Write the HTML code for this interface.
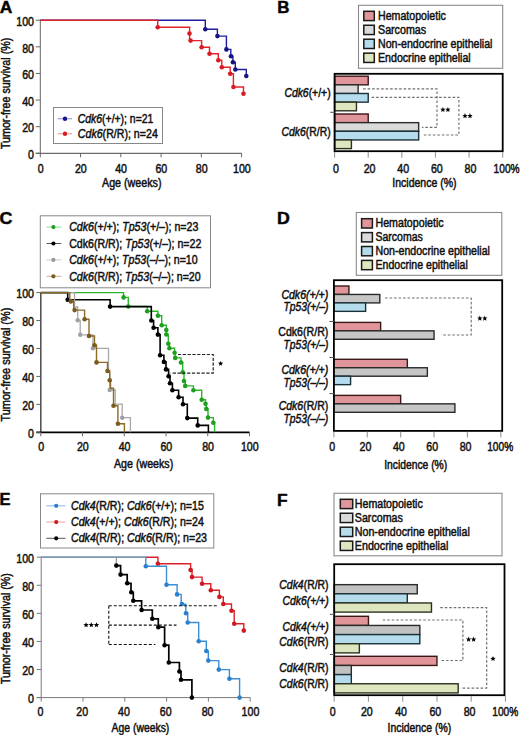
<!DOCTYPE html>
<html><head><meta charset="utf-8"><title>Figure</title>
<style>
html,body{margin:0;padding:0;background:#fff;}
body{width:520px;height:735px;overflow:hidden;}
svg{display:block;font-family:"Liberation Sans",sans-serif;}
text{stroke:#111;stroke-width:0.48px;}
</style></head>
<body>
<svg width="520" height="735" viewBox="0 0 520 735" fill="#111">
<rect x="0" y="0" width="520" height="735" fill="#fff"/>
<text x="-0.30" y="12.50" font-size="16.00" font-weight="bold" fill="#000" textLength="12.60" lengthAdjust="spacingAndGlyphs" ><tspan>A</tspan></text>
<text x="277.20" y="12.50" font-size="16.00" font-weight="bold" fill="#000" textLength="12.20" lengthAdjust="spacingAndGlyphs" ><tspan>B</tspan></text>
<text x="-0.60" y="224.30" font-size="16.00" font-weight="bold" fill="#000" textLength="12.90" lengthAdjust="spacingAndGlyphs" ><tspan>C</tspan></text>
<text x="277.00" y="224.30" font-size="16.00" font-weight="bold" fill="#000" textLength="12.80" lengthAdjust="spacingAndGlyphs" ><tspan>D</tspan></text>
<text x="-0.60" y="505.00" font-size="16.00" font-weight="bold" fill="#000" textLength="11.00" lengthAdjust="spacingAndGlyphs" ><tspan>E</tspan></text>
<text x="276.90" y="505.50" font-size="16.00" font-weight="bold" fill="#000" textLength="10.60" lengthAdjust="spacingAndGlyphs" ><tspan>F</tspan></text>
<line x1="40.30" y1="19.70" x2="40.30" y2="153.30" stroke="#666" stroke-width="1.00" />
<line x1="35.80" y1="153.30" x2="241.60" y2="153.30" stroke="#484848" stroke-width="1.00" />
<line x1="35.80" y1="153.30" x2="40.30" y2="153.30" stroke="#666" stroke-width="1.00" />
<text x="34.00" y="159.00" font-size="12.40" text-anchor="end" textLength="5.93" lengthAdjust="spacingAndGlyphs" ><tspan>0</tspan></text>
<line x1="35.80" y1="126.68" x2="40.30" y2="126.68" stroke="#666" stroke-width="1.00" />
<text x="34.00" y="132.38" font-size="12.40" text-anchor="end" textLength="11.86" lengthAdjust="spacingAndGlyphs" ><tspan>20</tspan></text>
<line x1="35.80" y1="100.06" x2="40.30" y2="100.06" stroke="#666" stroke-width="1.00" />
<text x="34.00" y="105.76" font-size="12.40" text-anchor="end" textLength="11.86" lengthAdjust="spacingAndGlyphs" ><tspan>40</tspan></text>
<line x1="35.80" y1="73.44" x2="40.30" y2="73.44" stroke="#666" stroke-width="1.00" />
<text x="34.00" y="79.14" font-size="12.40" text-anchor="end" textLength="11.86" lengthAdjust="spacingAndGlyphs" ><tspan>60</tspan></text>
<line x1="35.80" y1="46.82" x2="40.30" y2="46.82" stroke="#666" stroke-width="1.00" />
<text x="34.00" y="52.52" font-size="12.40" text-anchor="end" textLength="11.86" lengthAdjust="spacingAndGlyphs" ><tspan>80</tspan></text>
<line x1="35.80" y1="20.20" x2="40.30" y2="20.20" stroke="#666" stroke-width="1.00" />
<text x="34.00" y="25.90" font-size="12.40" text-anchor="end" textLength="17.79" lengthAdjust="spacingAndGlyphs" ><tspan>100</tspan></text>
<line x1="40.30" y1="153.30" x2="40.30" y2="157.30" stroke="#666" stroke-width="1.00" />
<text x="40.60" y="172.60" font-size="12.40" text-anchor="middle" textLength="5.93" lengthAdjust="spacingAndGlyphs" ><tspan>0</tspan></text>
<line x1="80.56" y1="153.30" x2="80.56" y2="157.30" stroke="#666" stroke-width="1.00" />
<text x="80.86" y="172.60" font-size="12.40" text-anchor="middle" textLength="11.86" lengthAdjust="spacingAndGlyphs" ><tspan>20</tspan></text>
<line x1="120.82" y1="153.30" x2="120.82" y2="157.30" stroke="#666" stroke-width="1.00" />
<text x="121.12" y="172.60" font-size="12.40" text-anchor="middle" textLength="11.86" lengthAdjust="spacingAndGlyphs" ><tspan>40</tspan></text>
<line x1="161.08" y1="153.30" x2="161.08" y2="157.30" stroke="#666" stroke-width="1.00" />
<text x="161.38" y="172.60" font-size="12.40" text-anchor="middle" textLength="11.86" lengthAdjust="spacingAndGlyphs" ><tspan>60</tspan></text>
<line x1="201.34" y1="153.30" x2="201.34" y2="157.30" stroke="#666" stroke-width="1.00" />
<text x="201.64" y="172.60" font-size="12.40" text-anchor="middle" textLength="11.86" lengthAdjust="spacingAndGlyphs" ><tspan>80</tspan></text>
<line x1="241.60" y1="153.30" x2="241.60" y2="157.30" stroke="#666" stroke-width="1.00" />
<text x="241.90" y="172.60" font-size="12.40" text-anchor="middle" textLength="17.79" lengthAdjust="spacingAndGlyphs" ><tspan>100</tspan></text>
<text x="102.00" y="187.40" font-size="12.00" textLength="59.50" lengthAdjust="spacingAndGlyphs" ><tspan>Age (weeks)</tspan></text>
<text x="0" y="0" font-size="12.30" text-anchor="middle" textLength="111.40" lengthAdjust="spacingAndGlyphs" transform="translate(10.2,93.40) rotate(-90)">Tumor-free survival (%)</text>
<path d="M40.30,20.20 H205.30 V29.20 H217.40 V36.10 H226.40 V49.40 H230.80 V56.30 H232.90 V62.30 H235.30 V69.50 H246.30 V76.00" stroke="#1f1f9e" stroke-width="1.40" fill="none" />
<circle cx="205.30" cy="29.20" r="2.30" fill="#141482"/>
<circle cx="217.40" cy="36.10" r="2.30" fill="#141482"/>
<circle cx="226.40" cy="49.40" r="2.30" fill="#141482"/>
<circle cx="231.00" cy="56.30" r="2.30" fill="#141482"/>
<circle cx="232.90" cy="62.30" r="2.30" fill="#141482"/>
<circle cx="235.30" cy="69.50" r="2.30" fill="#141482"/>
<circle cx="246.30" cy="76.00" r="2.30" fill="#141482"/>
<path d="M40.30,20.20 H157.70 V27.30 H189.60 V40.60 H201.60 V47.30 H209.50 V53.80 H218.30 V60.20 H221.80 V67.30 H230.20 V73.70 H233.40 V87.00 H243.50 V93.80" stroke="#e2232a" stroke-width="1.40" fill="none" />
<circle cx="157.70" cy="27.30" r="2.30" fill="#d81c24"/>
<circle cx="189.50" cy="33.50" r="2.30" fill="#d81c24"/>
<circle cx="190.60" cy="40.60" r="2.30" fill="#d81c24"/>
<circle cx="201.60" cy="47.30" r="2.30" fill="#d81c24"/>
<circle cx="209.50" cy="53.80" r="2.30" fill="#d81c24"/>
<circle cx="218.30" cy="60.20" r="2.30" fill="#d81c24"/>
<circle cx="221.80" cy="67.30" r="2.30" fill="#d81c24"/>
<circle cx="230.20" cy="73.70" r="2.30" fill="#d81c24"/>
<circle cx="233.40" cy="87.00" r="2.30" fill="#d81c24"/>
<circle cx="243.50" cy="93.80" r="2.30" fill="#d81c24"/>
<rect x="53.50" y="107.50" width="109.00" height="36.00" fill="#fff" stroke="#888" stroke-width="1.00" />
<line x1="57.50" y1="118.80" x2="72.00" y2="118.80" stroke="#8a8ad8" stroke-width="1.00" />
<circle cx="65.00" cy="118.80" r="2.20" fill="#151585"/>
<line x1="57.50" y1="133.80" x2="72.00" y2="133.80" stroke="#f09090" stroke-width="1.00" />
<circle cx="65.00" cy="133.80" r="2.20" fill="#d81c24"/>
<text x="77.80" y="122.80" font-size="12.00" textLength="75.50" lengthAdjust="spacingAndGlyphs" ><tspan font-style="italic">Cdk6</tspan><tspan>(+/+); n=21</tspan></text>
<text x="77.80" y="137.90" font-size="12.00" textLength="80.00" lengthAdjust="spacingAndGlyphs" ><tspan font-style="italic">Cdk6</tspan><tspan>(R/R); n=24</tspan></text>
<rect x="358.50" y="5.30" width="144.20" height="63.00" fill="#fff" stroke="#8a8a8a" stroke-width="1.10" />
<rect x="363.80" y="11.30" width="10.50" height="9.30" fill="#e0959a" stroke="#1a1a1a" stroke-width="1.50" />
<text x="378.00" y="20.00" font-size="12.00" textLength="67.90" lengthAdjust="spacingAndGlyphs" ><tspan>Hematopoietic</tspan></text>
<rect x="363.80" y="25.25" width="10.50" height="9.30" fill="#dadada" stroke="#1a1a1a" stroke-width="1.50" />
<text x="378.00" y="33.95" font-size="12.00" textLength="48.10" lengthAdjust="spacingAndGlyphs" ><tspan>Sarcomas</tspan></text>
<rect x="363.80" y="39.20" width="10.50" height="9.30" fill="#b4dcec" stroke="#1a1a1a" stroke-width="1.50" />
<text x="378.00" y="47.90" font-size="12.00" textLength="114.40" lengthAdjust="spacingAndGlyphs" ><tspan>Non-endocrine epithelial</tspan></text>
<rect x="363.80" y="53.15" width="10.50" height="9.30" fill="#dde6bf" stroke="#1a1a1a" stroke-width="1.50" />
<text x="378.00" y="61.85" font-size="12.00" textLength="92.70" lengthAdjust="spacingAndGlyphs" ><tspan>Endocrine epithelial</tspan></text>
<rect x="334.60" y="76.20" width="33.62" height="8.65" fill="#e0959a" stroke="#3a1818" stroke-width="1.40" />
<rect x="334.60" y="84.85" width="23.53" height="8.65" fill="#dadada" stroke="#2a2a2a" stroke-width="1.40" />
<rect x="334.60" y="93.50" width="33.62" height="8.65" fill="#b4dcec" stroke="#1c3038" stroke-width="1.40" />
<rect x="334.60" y="102.15" width="21.85" height="8.65" fill="#dde6bf" stroke="#2c3220" stroke-width="1.40" />
<rect x="334.60" y="114.00" width="33.62" height="8.65" fill="#e0959a" stroke="#3a1818" stroke-width="1.40" />
<rect x="334.60" y="122.65" width="84.05" height="8.65" fill="#dadada" stroke="#2a2a2a" stroke-width="1.40" />
<rect x="334.60" y="131.30" width="84.05" height="8.65" fill="#b4dcec" stroke="#1c3038" stroke-width="1.40" />
<rect x="334.60" y="139.95" width="16.81" height="8.65" fill="#dde6bf" stroke="#2c3220" stroke-width="1.40" />
<rect x="334.60" y="73.80" width="168.10" height="77.40" fill="none" stroke="#000" stroke-width="1.80" />
<line x1="330.20" y1="112.30" x2="334.60" y2="112.30" stroke="#555" stroke-width="1.00" />
<line x1="334.60" y1="152.00" x2="334.60" y2="157.70" stroke="#999" stroke-width="1.10" />
<text x="336.00" y="172.70" font-size="12.40" text-anchor="middle" textLength="5.93" lengthAdjust="spacingAndGlyphs" ><tspan>0</tspan></text>
<line x1="368.22" y1="152.00" x2="368.22" y2="157.70" stroke="#999" stroke-width="1.10" />
<text x="369.62" y="172.70" font-size="12.40" text-anchor="middle" textLength="11.86" lengthAdjust="spacingAndGlyphs" ><tspan>20</tspan></text>
<line x1="401.84" y1="152.00" x2="401.84" y2="157.70" stroke="#999" stroke-width="1.10" />
<text x="403.24" y="172.70" font-size="12.40" text-anchor="middle" textLength="11.86" lengthAdjust="spacingAndGlyphs" ><tspan>40</tspan></text>
<line x1="435.46" y1="152.00" x2="435.46" y2="157.70" stroke="#999" stroke-width="1.10" />
<text x="436.86" y="172.70" font-size="12.40" text-anchor="middle" textLength="11.86" lengthAdjust="spacingAndGlyphs" ><tspan>60</tspan></text>
<line x1="469.08" y1="152.00" x2="469.08" y2="157.70" stroke="#999" stroke-width="1.10" />
<text x="470.48" y="172.70" font-size="12.40" text-anchor="middle" textLength="11.86" lengthAdjust="spacingAndGlyphs" ><tspan>80</tspan></text>
<line x1="502.70" y1="152.00" x2="502.70" y2="157.70" stroke="#999" stroke-width="1.10" />
<text x="493.60" y="172.70" font-size="12.40" textLength="26.00" lengthAdjust="spacingAndGlyphs" ><tspan>100%</tspan></text>
<text x="392.30" y="187.40" font-size="12.00" textLength="64.30" lengthAdjust="spacingAndGlyphs" ><tspan>Incidence (%)</tspan></text>
<text x="330.60" y="97.30" font-size="12.00" text-anchor="end" textLength="46.20" lengthAdjust="spacingAndGlyphs" ><tspan font-style="italic">Cdk6</tspan><tspan>(+/+)</tspan></text>
<text x="330.60" y="136.00" font-size="12.00" text-anchor="end" textLength="49.00" lengthAdjust="spacingAndGlyphs" ><tspan font-style="italic">Cdk6</tspan><tspan>(R/R)</tspan></text>
<path d="M363.1,88.8 H437.0 V127.3 H422.0" stroke="#707070" stroke-width="1.15" fill="none" stroke-dasharray="2.6,1.9"/>
<path d="M371.6,97.3 H458.9 V135.0 H422.0" stroke="#707070" stroke-width="1.15" fill="none" stroke-dasharray="2.6,1.9"/>
<polygon points="442.90,106.90 443.64,108.68 445.56,108.83 444.10,110.09 444.55,111.97 442.90,110.96 441.25,111.97 441.70,110.09 440.24,108.83 442.16,108.68" fill="#000"/>
<polygon points="447.90,106.90 448.64,108.68 450.56,108.83 449.10,110.09 449.55,111.97 447.90,110.96 446.25,111.97 446.70,110.09 445.24,108.83 447.16,108.68" fill="#000"/>
<polygon points="465.00,113.10 465.74,114.88 467.66,115.03 466.20,116.29 466.65,118.17 465.00,117.16 463.35,118.17 463.80,116.29 462.34,115.03 464.26,114.88" fill="#000"/>
<polygon points="470.00,113.10 470.74,114.88 472.66,115.03 471.20,116.29 471.65,118.17 470.00,117.16 468.35,118.17 468.80,116.29 467.34,115.03 469.26,114.88" fill="#000"/>
<line x1="40.80" y1="292.10" x2="40.80" y2="432.30" stroke="#555" stroke-width="1.60" />
<line x1="36.30" y1="432.30" x2="249.50" y2="432.30" stroke="#000" stroke-width="1.80" />
<line x1="36.30" y1="432.30" x2="40.80" y2="432.30" stroke="#666" stroke-width="1.00" />
<text x="34.00" y="438.00" font-size="12.40" text-anchor="end" textLength="5.93" lengthAdjust="spacingAndGlyphs" ><tspan>0</tspan></text>
<line x1="36.30" y1="404.36" x2="40.80" y2="404.36" stroke="#666" stroke-width="1.00" />
<text x="34.00" y="410.06" font-size="12.40" text-anchor="end" textLength="11.86" lengthAdjust="spacingAndGlyphs" ><tspan>20</tspan></text>
<line x1="36.30" y1="376.42" x2="40.80" y2="376.42" stroke="#666" stroke-width="1.00" />
<text x="34.00" y="382.12" font-size="12.40" text-anchor="end" textLength="11.86" lengthAdjust="spacingAndGlyphs" ><tspan>40</tspan></text>
<line x1="36.30" y1="348.48" x2="40.80" y2="348.48" stroke="#666" stroke-width="1.00" />
<text x="34.00" y="354.18" font-size="12.40" text-anchor="end" textLength="11.86" lengthAdjust="spacingAndGlyphs" ><tspan>60</tspan></text>
<line x1="36.30" y1="320.54" x2="40.80" y2="320.54" stroke="#666" stroke-width="1.00" />
<text x="34.00" y="326.24" font-size="12.40" text-anchor="end" textLength="11.86" lengthAdjust="spacingAndGlyphs" ><tspan>80</tspan></text>
<line x1="36.30" y1="292.60" x2="40.80" y2="292.60" stroke="#666" stroke-width="1.00" />
<text x="34.00" y="298.30" font-size="12.40" text-anchor="end" textLength="17.79" lengthAdjust="spacingAndGlyphs" ><tspan>100</tspan></text>
<line x1="40.80" y1="432.30" x2="40.80" y2="436.30" stroke="#666" stroke-width="1.00" />
<text x="41.10" y="451.00" font-size="12.40" text-anchor="middle" textLength="5.93" lengthAdjust="spacingAndGlyphs" ><tspan>0</tspan></text>
<line x1="82.54" y1="432.30" x2="82.54" y2="436.30" stroke="#666" stroke-width="1.00" />
<text x="82.84" y="451.00" font-size="12.40" text-anchor="middle" textLength="11.86" lengthAdjust="spacingAndGlyphs" ><tspan>20</tspan></text>
<line x1="124.28" y1="432.30" x2="124.28" y2="436.30" stroke="#666" stroke-width="1.00" />
<text x="124.58" y="451.00" font-size="12.40" text-anchor="middle" textLength="11.86" lengthAdjust="spacingAndGlyphs" ><tspan>40</tspan></text>
<line x1="166.02" y1="432.30" x2="166.02" y2="436.30" stroke="#666" stroke-width="1.00" />
<text x="166.32" y="451.00" font-size="12.40" text-anchor="middle" textLength="11.86" lengthAdjust="spacingAndGlyphs" ><tspan>60</tspan></text>
<line x1="207.76" y1="432.30" x2="207.76" y2="436.30" stroke="#666" stroke-width="1.00" />
<text x="208.06" y="451.00" font-size="12.40" text-anchor="middle" textLength="11.86" lengthAdjust="spacingAndGlyphs" ><tspan>80</tspan></text>
<line x1="249.50" y1="432.30" x2="249.50" y2="436.30" stroke="#666" stroke-width="1.00" />
<text x="249.80" y="451.00" font-size="12.40" text-anchor="middle" textLength="17.79" lengthAdjust="spacingAndGlyphs" ><tspan>100</tspan></text>
<text x="114.00" y="467.60" font-size="12.00" textLength="59.20" lengthAdjust="spacingAndGlyphs" ><tspan>Age (weeks)</tspan></text>
<text x="0" y="0" font-size="12.30" text-anchor="middle" textLength="114.00" lengthAdjust="spacingAndGlyphs" transform="translate(10.2,364.60) rotate(-90)">Tumor-free survival (%)</text>
<path d="M40.80,292.60 H123.60 V297.40 H128.30 V306.50 H147.20 V311.30 H157.90 V315.80 H161.70 V325.20 H166.30 V334.50 H168.30 V343.80 H169.40 V348.30 H174.60 V352.70 H175.20 V357.90 H181.00 V362.50 H182.70 V372.30 H184.00 V381.00 H185.20 V385.90 H193.40 V390.30 H201.70 V399.80 H205.50 V403.70 H206.30 V408.90 H208.00 V417.60 H213.30 V422.80 H214.60 V432.30" stroke="#2db52d" stroke-width="1.40" fill="none" />
<circle cx="123.60" cy="297.40" r="2.30" fill="#1f9f1f"/>
<circle cx="128.30" cy="306.50" r="2.30" fill="#1f9f1f"/>
<circle cx="147.20" cy="311.30" r="2.30" fill="#1f9f1f"/>
<circle cx="157.90" cy="315.80" r="2.30" fill="#1f9f1f"/>
<circle cx="161.70" cy="325.20" r="2.30" fill="#1f9f1f"/>
<circle cx="166.30" cy="330.00" r="2.30" fill="#1f9f1f"/>
<circle cx="166.30" cy="334.50" r="2.30" fill="#1f9f1f"/>
<circle cx="168.30" cy="343.80" r="2.30" fill="#1f9f1f"/>
<circle cx="169.40" cy="348.30" r="2.30" fill="#1f9f1f"/>
<circle cx="174.60" cy="352.70" r="2.30" fill="#1f9f1f"/>
<circle cx="175.20" cy="357.90" r="2.30" fill="#1f9f1f"/>
<circle cx="181.00" cy="362.50" r="2.30" fill="#1f9f1f"/>
<circle cx="182.70" cy="372.30" r="2.30" fill="#1f9f1f"/>
<circle cx="184.00" cy="381.00" r="2.30" fill="#1f9f1f"/>
<circle cx="185.20" cy="385.90" r="2.30" fill="#1f9f1f"/>
<circle cx="193.40" cy="390.30" r="2.30" fill="#1f9f1f"/>
<circle cx="201.70" cy="399.80" r="2.30" fill="#1f9f1f"/>
<circle cx="205.50" cy="403.70" r="2.30" fill="#1f9f1f"/>
<circle cx="206.30" cy="408.90" r="2.30" fill="#1f9f1f"/>
<circle cx="208.00" cy="417.60" r="2.30" fill="#1f9f1f"/>
<circle cx="213.30" cy="422.80" r="2.30" fill="#1f9f1f"/>
<path d="M40.80,292.60 H67.70 V299.70 H110.10 V306.60 H151.30 V320.50 H153.60 V327.70 H157.90 V334.60 H160.10 V355.20 H163.90 V361.90 H166.00 V369.40 H168.60 V376.30 H170.00 V383.30 H172.40 V390.30 H178.60 V397.30 H183.00 V404.30 H187.30 V418.10 H197.70 V425.40 H208.40 V432.30" stroke="#000" stroke-width="1.60" fill="none" />
<circle cx="67.70" cy="299.70" r="2.30" fill="#000"/>
<circle cx="110.10" cy="306.60" r="2.30" fill="#000"/>
<circle cx="151.30" cy="320.50" r="2.30" fill="#000"/>
<circle cx="153.60" cy="327.70" r="2.30" fill="#000"/>
<circle cx="157.90" cy="334.60" r="2.30" fill="#000"/>
<circle cx="160.10" cy="355.20" r="2.30" fill="#000"/>
<circle cx="163.90" cy="361.90" r="2.30" fill="#000"/>
<circle cx="166.00" cy="369.40" r="2.30" fill="#000"/>
<circle cx="168.60" cy="376.30" r="2.30" fill="#000"/>
<circle cx="170.00" cy="383.30" r="2.30" fill="#000"/>
<circle cx="172.40" cy="390.30" r="2.30" fill="#000"/>
<circle cx="178.60" cy="397.30" r="2.30" fill="#000"/>
<circle cx="183.00" cy="404.30" r="2.30" fill="#000"/>
<circle cx="187.30" cy="418.10" r="2.30" fill="#000"/>
<circle cx="197.70" cy="425.40" r="2.30" fill="#000"/>
<path d="M40.80,292.60 H74.50 V307.00 H77.70 V320.30 H80.20 V334.80 H92.90 V348.30 H108.50 V372.00 H109.70 V390.00 H115.20 V404.20 H122.20 V417.70 H130.40 V432.30" stroke="#a8a8a8" stroke-width="1.30" fill="none" />
<circle cx="77.70" cy="320.30" r="2.20" fill="#a0a0a0"/>
<circle cx="80.20" cy="334.80" r="2.20" fill="#a0a0a0"/>
<circle cx="92.90" cy="348.30" r="2.20" fill="#a0a0a0"/>
<circle cx="109.70" cy="390.00" r="2.20" fill="#a0a0a0"/>
<circle cx="122.20" cy="417.70" r="2.20" fill="#9a9ab8"/>
<path d="M40.80,292.60 H69.80 V301.40 H73.70 V310.10 H84.60 V319.30 H89.00 V336.00 H94.50 V345.20 H96.50 V362.40 H107.50 V371.00 H109.70 V380.20 H110.50 V388.30 H113.50 V405.80 H117.90 V423.70 H124.40 V432.30" stroke="#8c6a28" stroke-width="1.40" fill="none" />
<circle cx="70.80" cy="301.40" r="2.30" fill="#7a5a20"/>
<circle cx="74.60" cy="310.10" r="2.30" fill="#7a5a20"/>
<circle cx="84.60" cy="319.30" r="2.30" fill="#7a5a20"/>
<circle cx="89.00" cy="336.00" r="2.30" fill="#7a5a20"/>
<circle cx="94.50" cy="345.20" r="2.30" fill="#7a5a20"/>
<circle cx="96.50" cy="362.40" r="2.30" fill="#7a5a20"/>
<circle cx="107.50" cy="371.00" r="2.30" fill="#7a5a20"/>
<circle cx="109.70" cy="380.20" r="2.30" fill="#7a5a20"/>
<circle cx="113.50" cy="405.80" r="2.30" fill="#7a5a20"/>
<circle cx="117.90" cy="423.70" r="2.30" fill="#7a5a20"/>
<path d="M178.0,354.5 H213.2 V373.2 H170.6" stroke="#222" stroke-width="1.2" fill="none" stroke-dasharray="3.2,1.6"/>
<polygon points="220.60,360.90 221.31,362.62 223.17,362.77 221.76,363.98 222.19,365.78 220.60,364.81 219.01,365.78 219.44,363.98 218.03,362.77 219.89,362.62" fill="#000"/>
<rect x="40.30" y="215.80" width="170.20" height="72.00" fill="#fff" stroke="#888" stroke-width="1.00" />
<line x1="46.50" y1="227.10" x2="61.30" y2="227.10" stroke="#8ddc8d" stroke-width="1.00" />
<circle cx="53.40" cy="227.10" r="2.10" fill="#1f9f1f"/>
<line x1="46.50" y1="243.50" x2="61.30" y2="243.50" stroke="#555" stroke-width="1.00" />
<circle cx="53.40" cy="243.50" r="2.10" fill="#000"/>
<line x1="46.50" y1="259.90" x2="61.30" y2="259.90" stroke="#ccc" stroke-width="1.00" />
<circle cx="53.40" cy="259.90" r="2.10" fill="#9a9a9a"/>
<line x1="46.50" y1="276.30" x2="61.30" y2="276.30" stroke="#c8b088" stroke-width="1.00" />
<circle cx="53.40" cy="276.30" r="2.10" fill="#7a5a20"/>
<text x="69.20" y="231.40" font-size="12.00" textLength="129.10" lengthAdjust="spacingAndGlyphs" ><tspan font-style="italic">Cdk6</tspan><tspan>(+/+); </tspan><tspan font-style="italic">Tp53</tspan><tspan>(+/–); n=23</tspan></text>
<text x="69.20" y="247.90" font-size="12.00" textLength="132.10" lengthAdjust="spacingAndGlyphs" ><tspan>Cdk6(R/R); </tspan><tspan font-style="italic">Tp53</tspan><tspan>(+/–); n=22</tspan></text>
<text x="69.20" y="264.40" font-size="12.00" textLength="128.40" lengthAdjust="spacingAndGlyphs" ><tspan font-style="italic">Cdk6</tspan><tspan>(+/+); </tspan><tspan font-style="italic">Tp53</tspan><tspan>(–/–); n=10</tspan></text>
<text x="69.20" y="280.90" font-size="12.00" textLength="131.40" lengthAdjust="spacingAndGlyphs" ><tspan font-style="italic">Cdk6</tspan><tspan>(R/R); </tspan><tspan font-style="italic">Tp53</tspan><tspan>(–/–); n=20</tspan></text>
<rect x="356.30" y="212.50" width="145.50" height="62.80" fill="#fff" stroke="#8a8a8a" stroke-width="1.10" />
<rect x="361.60" y="218.70" width="10.80" height="9.30" fill="#e0959a" stroke="#1a1a1a" stroke-width="1.50" />
<text x="375.50" y="227.40" font-size="12.00" textLength="68.10" lengthAdjust="spacingAndGlyphs" ><tspan>Hematopoietic</tspan></text>
<rect x="361.60" y="232.60" width="10.80" height="9.30" fill="#dadada" stroke="#1a1a1a" stroke-width="1.50" />
<text x="375.50" y="241.30" font-size="12.00" textLength="47.30" lengthAdjust="spacingAndGlyphs" ><tspan>Sarcomas</tspan></text>
<rect x="361.60" y="246.50" width="10.80" height="9.30" fill="#b4dcec" stroke="#1a1a1a" stroke-width="1.50" />
<text x="375.50" y="255.20" font-size="12.00" textLength="114.40" lengthAdjust="spacingAndGlyphs" ><tspan>Non-endocrine epithelial</tspan></text>
<rect x="361.60" y="260.40" width="10.80" height="9.30" fill="#dde6bf" stroke="#1a1a1a" stroke-width="1.50" />
<text x="375.50" y="269.10" font-size="12.00" textLength="92.30" lengthAdjust="spacingAndGlyphs" ><tspan>Endocrine epithelial</tspan></text>
<rect x="333.90" y="286.00" width="15.02" height="8.45" fill="#e0959a" stroke="#3a1818" stroke-width="1.40" />
<rect x="333.90" y="294.45" width="45.90" height="8.45" fill="#c6c6c6" stroke="#2a2a2a" stroke-width="1.40" />
<rect x="333.90" y="302.90" width="31.71" height="8.45" fill="#b4dcec" stroke="#1c3038" stroke-width="1.40" />
<rect x="333.90" y="322.40" width="46.73" height="8.45" fill="#e0959a" stroke="#3a1818" stroke-width="1.40" />
<rect x="333.90" y="330.85" width="100.14" height="8.45" fill="#c6c6c6" stroke="#2a2a2a" stroke-width="1.40" />
<rect x="333.90" y="359.30" width="73.44" height="8.45" fill="#e0959a" stroke="#3a1818" stroke-width="1.40" />
<rect x="333.90" y="367.75" width="93.46" height="8.45" fill="#c6c6c6" stroke="#2a2a2a" stroke-width="1.40" />
<rect x="333.90" y="376.20" width="16.69" height="8.45" fill="#b4dcec" stroke="#1c3038" stroke-width="1.40" />
<rect x="333.90" y="395.40" width="66.76" height="8.45" fill="#e0959a" stroke="#3a1818" stroke-width="1.40" />
<rect x="333.90" y="403.85" width="121.00" height="8.45" fill="#c6c6c6" stroke="#2a2a2a" stroke-width="1.40" />
<rect x="333.90" y="280.20" width="168.30" height="150.70" fill="none" stroke="#000" stroke-width="1.80" />
<line x1="329.40" y1="321.50" x2="333.90" y2="321.50" stroke="#555" stroke-width="1.00" />
<line x1="329.40" y1="357.50" x2="333.90" y2="357.50" stroke="#555" stroke-width="1.00" />
<line x1="329.40" y1="393.60" x2="333.90" y2="393.60" stroke="#555" stroke-width="1.00" />
<line x1="333.90" y1="431.70" x2="333.90" y2="437.40" stroke="#999" stroke-width="1.10" />
<text x="332.10" y="450.90" font-size="12.40" text-anchor="middle" textLength="5.93" lengthAdjust="spacingAndGlyphs" ><tspan>0</tspan></text>
<line x1="367.28" y1="431.70" x2="367.28" y2="437.40" stroke="#999" stroke-width="1.10" />
<text x="365.48" y="450.90" font-size="12.40" text-anchor="middle" textLength="11.86" lengthAdjust="spacingAndGlyphs" ><tspan>20</tspan></text>
<line x1="400.66" y1="431.70" x2="400.66" y2="437.40" stroke="#999" stroke-width="1.10" />
<text x="398.86" y="450.90" font-size="12.40" text-anchor="middle" textLength="11.86" lengthAdjust="spacingAndGlyphs" ><tspan>40</tspan></text>
<line x1="434.04" y1="431.70" x2="434.04" y2="437.40" stroke="#999" stroke-width="1.10" />
<text x="432.24" y="450.90" font-size="12.40" text-anchor="middle" textLength="11.86" lengthAdjust="spacingAndGlyphs" ><tspan>60</tspan></text>
<line x1="467.42" y1="431.70" x2="467.42" y2="437.40" stroke="#999" stroke-width="1.10" />
<text x="465.62" y="450.90" font-size="12.40" text-anchor="middle" textLength="11.86" lengthAdjust="spacingAndGlyphs" ><tspan>80</tspan></text>
<line x1="500.80" y1="431.70" x2="500.80" y2="437.40" stroke="#999" stroke-width="1.10" />
<text x="487.20" y="450.90" font-size="12.40" textLength="26.00" lengthAdjust="spacingAndGlyphs" ><tspan>100%</tspan></text>
<text x="384.20" y="468.70" font-size="12.00" textLength="63.00" lengthAdjust="spacingAndGlyphs" ><tspan>Incidence (%)</tspan></text>
<text x="328.30" y="298.50" font-size="12.00" text-anchor="end" textLength="46.90" lengthAdjust="spacingAndGlyphs" ><tspan font-style="italic">Cdk6(+/+)</tspan></text>
<text x="328.30" y="311.10" font-size="12.00" text-anchor="end" textLength="44.80" lengthAdjust="spacingAndGlyphs" ><tspan font-style="italic">Tp53(+/–)</tspan></text>
<text x="328.30" y="336.20" font-size="12.00" text-anchor="end" textLength="50.00" lengthAdjust="spacingAndGlyphs" ><tspan>Cdk6(R/R)</tspan></text>
<text x="328.30" y="348.80" font-size="12.00" text-anchor="end" textLength="44.80" lengthAdjust="spacingAndGlyphs" ><tspan font-style="italic">Tp53(+/–)</tspan></text>
<text x="328.30" y="373.70" font-size="12.00" text-anchor="end" textLength="46.90" lengthAdjust="spacingAndGlyphs" ><tspan font-style="italic">Cdk6(+/+)</tspan></text>
<text x="328.30" y="387.10" font-size="12.00" text-anchor="end" textLength="44.80" lengthAdjust="spacingAndGlyphs" ><tspan font-style="italic">Tp53(–/–)</tspan></text>
<text x="328.30" y="410.30" font-size="12.00" text-anchor="end" textLength="49.60" lengthAdjust="spacingAndGlyphs" ><tspan font-style="italic">Cdk6</tspan><tspan>(R/R)</tspan></text>
<text x="328.30" y="422.90" font-size="12.00" text-anchor="end" textLength="44.80" lengthAdjust="spacingAndGlyphs" ><tspan font-style="italic">Tp53(–/–)</tspan></text>
<path d="M385.0,298.0 H471.2 V335.0 H441.2" stroke="#707070" stroke-width="1.15" fill="none" stroke-dasharray="2.6,1.9"/>
<polygon points="479.80,315.60 480.54,317.38 482.46,317.53 481.00,318.79 481.45,320.67 479.80,319.66 478.15,320.67 478.60,318.79 477.14,317.53 479.06,317.38" fill="#000"/>
<polygon points="484.80,315.60 485.54,317.38 487.46,317.53 486.00,318.79 486.45,320.67 484.80,319.66 483.15,320.67 483.60,318.79 482.14,317.53 484.06,317.38" fill="#000"/>
<line x1="41.20" y1="556.70" x2="41.20" y2="697.60" stroke="#7a7a7a" stroke-width="1.00" />
<line x1="36.70" y1="697.60" x2="250.20" y2="697.60" stroke="#7a7a7a" stroke-width="1.00" />
<line x1="36.70" y1="697.60" x2="41.20" y2="697.60" stroke="#7a7a7a" stroke-width="1.00" />
<text x="34.00" y="703.30" font-size="12.40" text-anchor="end" textLength="5.93" lengthAdjust="spacingAndGlyphs" ><tspan>0</tspan></text>
<line x1="36.70" y1="669.52" x2="41.20" y2="669.52" stroke="#7a7a7a" stroke-width="1.00" />
<text x="34.00" y="675.22" font-size="12.40" text-anchor="end" textLength="11.86" lengthAdjust="spacingAndGlyphs" ><tspan>20</tspan></text>
<line x1="36.70" y1="641.44" x2="41.20" y2="641.44" stroke="#7a7a7a" stroke-width="1.00" />
<text x="34.00" y="647.14" font-size="12.40" text-anchor="end" textLength="11.86" lengthAdjust="spacingAndGlyphs" ><tspan>40</tspan></text>
<line x1="36.70" y1="613.36" x2="41.20" y2="613.36" stroke="#7a7a7a" stroke-width="1.00" />
<text x="34.00" y="619.06" font-size="12.40" text-anchor="end" textLength="11.86" lengthAdjust="spacingAndGlyphs" ><tspan>60</tspan></text>
<line x1="36.70" y1="585.28" x2="41.20" y2="585.28" stroke="#7a7a7a" stroke-width="1.00" />
<text x="34.00" y="590.98" font-size="12.40" text-anchor="end" textLength="11.86" lengthAdjust="spacingAndGlyphs" ><tspan>80</tspan></text>
<line x1="36.70" y1="557.20" x2="41.20" y2="557.20" stroke="#7a7a7a" stroke-width="1.00" />
<text x="34.00" y="562.90" font-size="12.40" text-anchor="end" textLength="17.79" lengthAdjust="spacingAndGlyphs" ><tspan>100</tspan></text>
<line x1="41.20" y1="697.60" x2="41.20" y2="701.60" stroke="#7a7a7a" stroke-width="1.00" />
<text x="40.40" y="715.80" font-size="12.40" text-anchor="middle" textLength="5.93" lengthAdjust="spacingAndGlyphs" ><tspan>0</tspan></text>
<line x1="83.00" y1="697.60" x2="83.00" y2="701.60" stroke="#7a7a7a" stroke-width="1.00" />
<text x="82.20" y="715.80" font-size="12.40" text-anchor="middle" textLength="11.86" lengthAdjust="spacingAndGlyphs" ><tspan>20</tspan></text>
<line x1="124.80" y1="697.60" x2="124.80" y2="701.60" stroke="#7a7a7a" stroke-width="1.00" />
<text x="124.00" y="715.80" font-size="12.40" text-anchor="middle" textLength="11.86" lengthAdjust="spacingAndGlyphs" ><tspan>40</tspan></text>
<line x1="166.60" y1="697.60" x2="166.60" y2="701.60" stroke="#7a7a7a" stroke-width="1.00" />
<text x="165.80" y="715.80" font-size="12.40" text-anchor="middle" textLength="11.86" lengthAdjust="spacingAndGlyphs" ><tspan>60</tspan></text>
<line x1="208.40" y1="697.60" x2="208.40" y2="701.60" stroke="#7a7a7a" stroke-width="1.00" />
<text x="207.60" y="715.80" font-size="12.40" text-anchor="middle" textLength="11.86" lengthAdjust="spacingAndGlyphs" ><tspan>80</tspan></text>
<line x1="250.20" y1="697.60" x2="250.20" y2="701.60" stroke="#7a7a7a" stroke-width="1.00" />
<text x="250.50" y="715.80" font-size="12.40" text-anchor="middle" textLength="17.79" lengthAdjust="spacingAndGlyphs" ><tspan>100</tspan></text>
<text x="111.60" y="731.70" font-size="12.00" textLength="57.70" lengthAdjust="spacingAndGlyphs" ><tspan>Age (weeks)</tspan></text>
<text x="0" y="0" font-size="12.30" text-anchor="middle" textLength="111.00" lengthAdjust="spacingAndGlyphs" transform="translate(10.2,628.60) rotate(-90)">Tumor-free survival (%)</text>
<path d="M116.3,557.20 V565.6" stroke="#777" stroke-width="1.00" fill="none" />
<path d="M116.30,565.60 H120.60 V574.60 H127.20 V583.30 H131.00 V592.30 H133.30 V600.80 H141.60 V610.00 H152.30 V618.80 H158.30 V627.20 H164.60 V645.20 H168.80 V662.50 H179.40 V671.50 H181.00 V679.80 H191.90 V697.60" stroke="#000" stroke-width="1.70" fill="none" />
<circle cx="116.30" cy="565.60" r="2.30" fill="#000"/>
<circle cx="120.60" cy="574.60" r="2.30" fill="#000"/>
<circle cx="127.20" cy="583.30" r="2.30" fill="#000"/>
<circle cx="131.30" cy="592.30" r="2.30" fill="#000"/>
<circle cx="133.30" cy="600.80" r="2.30" fill="#000"/>
<circle cx="141.60" cy="610.00" r="2.30" fill="#000"/>
<circle cx="152.30" cy="618.80" r="2.30" fill="#000"/>
<circle cx="158.30" cy="627.20" r="2.30" fill="#000"/>
<circle cx="164.60" cy="645.20" r="2.30" fill="#000"/>
<circle cx="168.80" cy="662.50" r="2.30" fill="#000"/>
<circle cx="179.40" cy="671.50" r="2.30" fill="#000"/>
<circle cx="181.00" cy="679.80" r="2.30" fill="#000"/>
<circle cx="191.90" cy="697.60" r="2.30" fill="#000"/>
<path d="M145.80,557.20 H157.90 V563.70 H190.60 V570.00 H192.00 V577.10 H202.10 V583.80 H210.80 V590.20 H219.40 V596.90 H223.30 V604.00 H231.50 V610.80 H234.20 V623.80 H243.80 V630.60" stroke="#dc2128" stroke-width="1.40" fill="none" />
<circle cx="157.90" cy="563.70" r="2.30" fill="#d01820"/>
<circle cx="190.60" cy="570.00" r="2.30" fill="#d01820"/>
<circle cx="192.00" cy="577.10" r="2.30" fill="#d01820"/>
<circle cx="202.10" cy="583.80" r="2.30" fill="#d01820"/>
<circle cx="210.80" cy="590.20" r="2.30" fill="#d01820"/>
<circle cx="219.40" cy="596.90" r="2.30" fill="#d01820"/>
<circle cx="223.30" cy="604.00" r="2.30" fill="#d01820"/>
<circle cx="231.50" cy="610.80" r="2.30" fill="#d01820"/>
<circle cx="234.20" cy="623.80" r="2.30" fill="#d01820"/>
<circle cx="243.80" cy="630.60" r="2.30" fill="#d01820"/>
<path d="M41.20,557.20 H145.80 V566.30 H166.50 V584.80 H177.10 V594.40 H181.20 V604.20 H185.80 V613.00 H187.70 V622.50 H198.70 V641.30 H206.30 V651.00 H208.30 V660.60 H218.80 V669.60 H229.40 V678.80 H239.60 V697.60" stroke="#3b8fd6" stroke-width="1.40" fill="none" />
<circle cx="145.80" cy="566.30" r="2.30" fill="#2a80cc"/>
<circle cx="166.50" cy="584.80" r="2.30" fill="#2a80cc"/>
<circle cx="177.10" cy="594.40" r="2.30" fill="#2a80cc"/>
<circle cx="181.90" cy="604.00" r="2.30" fill="#2a80cc"/>
<circle cx="186.00" cy="613.30" r="2.30" fill="#2a80cc"/>
<circle cx="187.70" cy="622.50" r="2.30" fill="#2a80cc"/>
<circle cx="198.70" cy="641.30" r="2.30" fill="#2a80cc"/>
<circle cx="206.30" cy="651.00" r="2.30" fill="#2a80cc"/>
<circle cx="208.30" cy="660.60" r="2.30" fill="#2a80cc"/>
<circle cx="218.80" cy="669.60" r="2.30" fill="#2a80cc"/>
<circle cx="229.40" cy="678.80" r="2.30" fill="#2a80cc"/>
<circle cx="239.60" cy="697.60" r="2.30" fill="#2a80cc"/>
<path d="M41.20,557.20 H145.8" stroke="#8797a8" stroke-width="1.50" fill="none" />
<path d="M108.8,605.8 H217.0 M108.8,625.1 H176.5 M108.8,644.5 H155.4 M108.8,605.8 V644.5" stroke="#111" stroke-width="1.1" fill="none" stroke-dasharray="3,2"/>
<polygon points="86.10,622.20 86.84,623.98 88.76,624.13 87.30,625.39 87.75,627.27 86.10,626.26 84.45,627.27 84.90,625.39 83.44,624.13 85.36,623.98" fill="#000"/>
<polygon points="91.30,622.20 92.04,623.98 93.96,624.13 92.50,625.39 92.95,627.27 91.30,626.26 89.65,627.27 90.10,625.39 88.64,624.13 90.56,623.98" fill="#000"/>
<polygon points="96.50,622.20 97.24,623.98 99.16,624.13 97.70,625.39 98.15,627.27 96.50,626.26 94.85,627.27 95.30,625.39 93.84,624.13 95.76,623.98" fill="#000"/>
<rect x="40.50" y="493.80" width="173.30" height="54.20" fill="#fff" stroke="#888" stroke-width="1.00" />
<line x1="46.30" y1="505.80" x2="65.50" y2="505.80" stroke="#8ab8e8" stroke-width="1.00" />
<circle cx="56.20" cy="505.80" r="2.10" fill="#2a80cc"/>
<line x1="46.30" y1="522.05" x2="65.50" y2="522.05" stroke="#f0a0a0" stroke-width="1.00" />
<circle cx="56.20" cy="522.05" r="2.10" fill="#d01820"/>
<line x1="46.30" y1="538.30" x2="65.50" y2="538.30" stroke="#555" stroke-width="1.00" />
<circle cx="56.20" cy="538.30" r="2.10" fill="#000"/>
<text x="71.00" y="509.60" font-size="12.00" textLength="132.80" lengthAdjust="spacingAndGlyphs" ><tspan font-style="italic">Cdk4</tspan><tspan>(R/R); </tspan><tspan font-style="italic">Cdk6</tspan><tspan>(+/+); n=15</tspan></text>
<text x="71.00" y="526.00" font-size="12.00" textLength="132.80" lengthAdjust="spacingAndGlyphs" ><tspan font-style="italic">Cdk4</tspan><tspan>(+/+); </tspan><tspan font-style="italic">Cdk6</tspan><tspan>(R/R); n=24</tspan></text>
<text x="71.00" y="542.40" font-size="12.00" textLength="136.00" lengthAdjust="spacingAndGlyphs" ><tspan font-style="italic">Cdk4</tspan><tspan>(R/R); </tspan><tspan font-style="italic">Cdk6</tspan><tspan>(R/R); n=23</tspan></text>
<rect x="334.00" y="493.30" width="168.00" height="62.50" fill="#fff" stroke="#8a8a8a" stroke-width="1.10" />
<rect x="340.30" y="499.30" width="12.40" height="9.30" fill="#e0959a" stroke="#1a1a1a" stroke-width="1.50" />
<text x="354.80" y="508.00" font-size="12.00" textLength="68.00" lengthAdjust="spacingAndGlyphs" ><tspan>Hematopoietic</tspan></text>
<rect x="340.30" y="513.25" width="12.40" height="9.30" fill="#dadada" stroke="#1a1a1a" stroke-width="1.50" />
<text x="354.80" y="521.95" font-size="12.00" textLength="48.00" lengthAdjust="spacingAndGlyphs" ><tspan>Sarcomas</tspan></text>
<rect x="340.30" y="527.20" width="12.40" height="9.30" fill="#b4dcec" stroke="#1a1a1a" stroke-width="1.50" />
<text x="354.80" y="535.90" font-size="12.00" textLength="115.00" lengthAdjust="spacingAndGlyphs" ><tspan>Non-endocrine epithelial</tspan></text>
<rect x="340.30" y="541.15" width="12.40" height="9.30" fill="#dde6bf" stroke="#1a1a1a" stroke-width="1.50" />
<text x="354.80" y="549.85" font-size="12.00" textLength="93.50" lengthAdjust="spacingAndGlyphs" ><tspan>Endocrine epithelial</tspan></text>
<rect x="334.20" y="584.65" width="83.06" height="9.15" fill="#c2c2c2" stroke="#2a2a2a" stroke-width="1.40" />
<rect x="334.20" y="593.80" width="73.12" height="9.15" fill="#b4dcec" stroke="#1c3038" stroke-width="1.40" />
<rect x="334.20" y="602.95" width="97.27" height="9.15" fill="#dde6bf" stroke="#2c3220" stroke-width="1.40" />
<rect x="334.20" y="616.30" width="34.25" height="9.15" fill="#e0959a" stroke="#3a1818" stroke-width="1.40" />
<rect x="334.20" y="625.45" width="85.62" height="9.15" fill="#c2c2c2" stroke="#2a2a2a" stroke-width="1.40" />
<rect x="334.20" y="634.60" width="85.62" height="9.15" fill="#b4dcec" stroke="#1c3038" stroke-width="1.40" />
<rect x="334.20" y="643.75" width="25.17" height="9.15" fill="#dde6bf" stroke="#2c3220" stroke-width="1.40" />
<rect x="334.20" y="656.30" width="102.75" height="9.15" fill="#e0959a" stroke="#3a1818" stroke-width="1.40" />
<rect x="334.20" y="665.45" width="17.12" height="9.15" fill="#c2c2c2" stroke="#2a2a2a" stroke-width="1.40" />
<rect x="334.20" y="674.60" width="17.12" height="9.15" fill="#b4dcec" stroke="#1c3038" stroke-width="1.40" />
<rect x="334.20" y="683.75" width="123.98" height="9.15" fill="#dde6bf" stroke="#2c3220" stroke-width="1.40" />
<rect x="334.20" y="564.20" width="170.30" height="131.00" fill="none" stroke="#000" stroke-width="1.80" />
<line x1="329.80" y1="614.30" x2="334.20" y2="614.30" stroke="#555" stroke-width="1.00" />
<line x1="329.80" y1="654.50" x2="334.20" y2="654.50" stroke="#555" stroke-width="1.00" />
<line x1="334.20" y1="696.00" x2="334.20" y2="701.70" stroke="#999" stroke-width="1.10" />
<text x="332.60" y="716.30" font-size="12.40" text-anchor="middle" textLength="5.93" lengthAdjust="spacingAndGlyphs" ><tspan>0</tspan></text>
<line x1="368.45" y1="696.00" x2="368.45" y2="701.70" stroke="#999" stroke-width="1.10" />
<text x="366.85" y="716.30" font-size="12.40" text-anchor="middle" textLength="11.86" lengthAdjust="spacingAndGlyphs" ><tspan>20</tspan></text>
<line x1="402.70" y1="696.00" x2="402.70" y2="701.70" stroke="#999" stroke-width="1.10" />
<text x="401.10" y="716.30" font-size="12.40" text-anchor="middle" textLength="11.86" lengthAdjust="spacingAndGlyphs" ><tspan>40</tspan></text>
<line x1="436.95" y1="696.00" x2="436.95" y2="701.70" stroke="#999" stroke-width="1.10" />
<text x="435.35" y="716.30" font-size="12.40" text-anchor="middle" textLength="11.86" lengthAdjust="spacingAndGlyphs" ><tspan>60</tspan></text>
<line x1="471.20" y1="696.00" x2="471.20" y2="701.70" stroke="#999" stroke-width="1.10" />
<text x="469.60" y="716.30" font-size="12.40" text-anchor="middle" textLength="11.86" lengthAdjust="spacingAndGlyphs" ><tspan>80</tspan></text>
<line x1="505.45" y1="696.00" x2="505.45" y2="701.70" stroke="#999" stroke-width="1.10" />
<text x="492.30" y="716.30" font-size="12.40" textLength="26.00" lengthAdjust="spacingAndGlyphs" ><tspan>100%</tspan></text>
<text x="387.50" y="732.20" font-size="12.00" textLength="63.70" lengthAdjust="spacingAndGlyphs" ><tspan>Incidence (%)</tspan></text>
<text x="328.60" y="589.40" font-size="12.00" text-anchor="end" textLength="49.30" lengthAdjust="spacingAndGlyphs" ><tspan font-style="italic">Cdk4</tspan><tspan>(R/R)</tspan></text>
<text x="328.60" y="605.10" font-size="12.00" text-anchor="end" textLength="46.10" lengthAdjust="spacingAndGlyphs" ><tspan font-style="italic">Cdk6(+/+)</tspan></text>
<text x="328.60" y="630.60" font-size="12.00" text-anchor="end" textLength="46.10" lengthAdjust="spacingAndGlyphs" ><tspan font-style="italic">Cdk4(+/+)</tspan></text>
<text x="328.60" y="646.40" font-size="12.00" text-anchor="end" textLength="49.30" lengthAdjust="spacingAndGlyphs" ><tspan font-style="italic">Cdk6</tspan><tspan>(R/R)</tspan></text>
<text x="328.60" y="672.20" font-size="12.00" text-anchor="end" textLength="49.30" lengthAdjust="spacingAndGlyphs" ><tspan font-style="italic">Cdk4</tspan><tspan>(R/R)</tspan></text>
<text x="328.60" y="687.80" font-size="12.00" text-anchor="end" textLength="49.30" lengthAdjust="spacingAndGlyphs" ><tspan font-style="italic">Cdk6</tspan><tspan>(R/R)</tspan></text>
<path d="M382.7,620.0 H462.9 V660.5 H441.4" stroke="#707070" stroke-width="1.15" fill="none" stroke-dasharray="2.6,1.9"/>
<path d="M440.2,607.6 H486.7 V688.1 H460.5" stroke="#707070" stroke-width="1.15" fill="none" stroke-dasharray="2.6,1.9"/>
<polygon points="468.60,636.60 469.34,638.38 471.26,638.53 469.80,639.79 470.25,641.67 468.60,640.66 466.95,641.67 467.40,639.79 465.94,638.53 467.86,638.38" fill="#000"/>
<polygon points="473.60,636.60 474.34,638.38 476.26,638.53 474.80,639.79 475.25,641.67 473.60,640.66 471.95,641.67 472.40,639.79 470.94,638.53 472.86,638.38" fill="#000"/>
<polygon points="493.00,656.00 493.74,657.78 495.66,657.93 494.20,659.19 494.65,661.07 493.00,660.06 491.35,661.07 491.80,659.19 490.34,657.93 492.26,657.78" fill="#000"/>
</svg>
</body></html>
